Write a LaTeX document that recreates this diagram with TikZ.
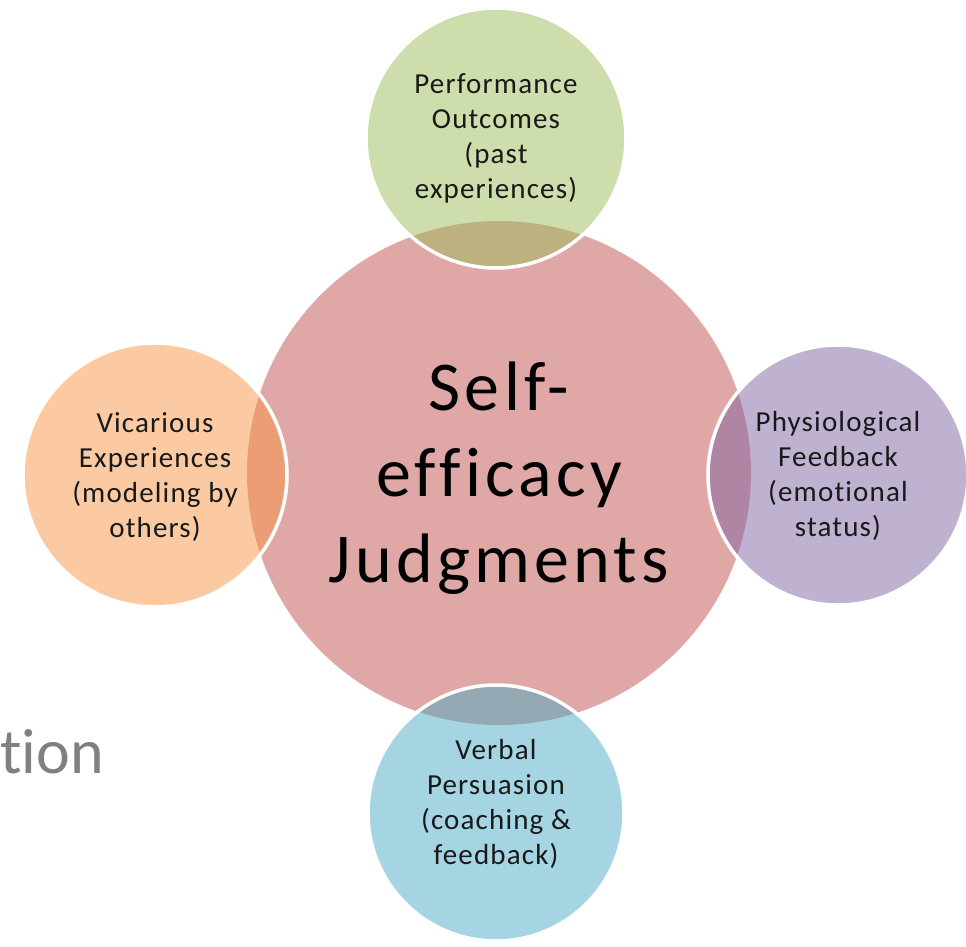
\documentclass[tikz,border=0pt]{standalone}
\usepackage{fontspec}
\setmainfont{Carlito}[Ligatures=NoCommon]
\newfontfamily\bubblefont[LetterSpace=4,Ligatures=NoCommon]{Carlito}
\newfontfamily\corefont[LetterSpace=6,Ligatures=NoCommon]{Carlito}
\definecolor{accred}{RGB}{192,80,77}
\definecolor{accgreen}{RGB}{155,187,89}
\definecolor{accpurple}{RGB}{128,100,162}
\definecolor{accblue}{RGB}{75,172,198}
\definecolor{accorange}{RGB}{247,150,70}
\tikzstyle{core}=[circle,fill=accred,fill opacity=0.5,minimum size=504pt,inner sep=0pt]
\tikzstyle{coretext}=[align=center,inner sep=0pt,font=\corefont\fontsize{70}{86}\selectfont]
\tikzstyle{bubble}=[circle,fill opacity=0.5,draw=white,line width=3.5pt,inner sep=0pt]
\tikzstyle{bubbletext}=[align=center,inner sep=0pt,text=black!90,font=\bubblefont\fontsize{29}{35}\selectfont]
% name, colour, diameter, centre, text shift, text
\newcommand{\drawbubble}[6]{
\node[bubble,fill=#2,minimum size=#3] (#1) at #4 {};
\node[bubbletext,yshift=#5] (#1-text) at (#1.center) {#6};
}

\begin{document}
\begin{tikzpicture}[x=1pt,y=-1pt]
	\useasboundingbox (0,0) rectangle (966,946);
	% slide title left over behind the diagram
	\node[anchor=base west,inner sep=0pt,text=black!50,font=\fontsize{64}{70}\selectfont] (title) at (0,773) {tion};
	\begin{scope}
	\node[core] (judge) at (499,473) {};
	\node[coretext,yshift=-5pt] (judge-text) at (judge.center) {Self-\\efficacy\\Judgments};
	\drawbubble{perf}{accgreen}{260pt}{(496,138)}{0pt}{Performance\\Outcomes\\(past\\experiences)}
	\drawbubble{vicar}{accorange}{264pt}{(155,475)}{-2pt}{Vicarious\\Experiences\\(modeling by\\others)}
	\drawbubble{physio}{accpurple}{260pt}{(838,475)}{-1pt}{Physiological\\Feedback\\(emotional\\status)}
	\drawbubble{verbal}{accblue}{256pt}{(496,813)}{9pt}{Verbal\\Persuasion\\(coaching \&\\feedback)}
	\end{scope}
\end{tikzpicture}
\end{document}
